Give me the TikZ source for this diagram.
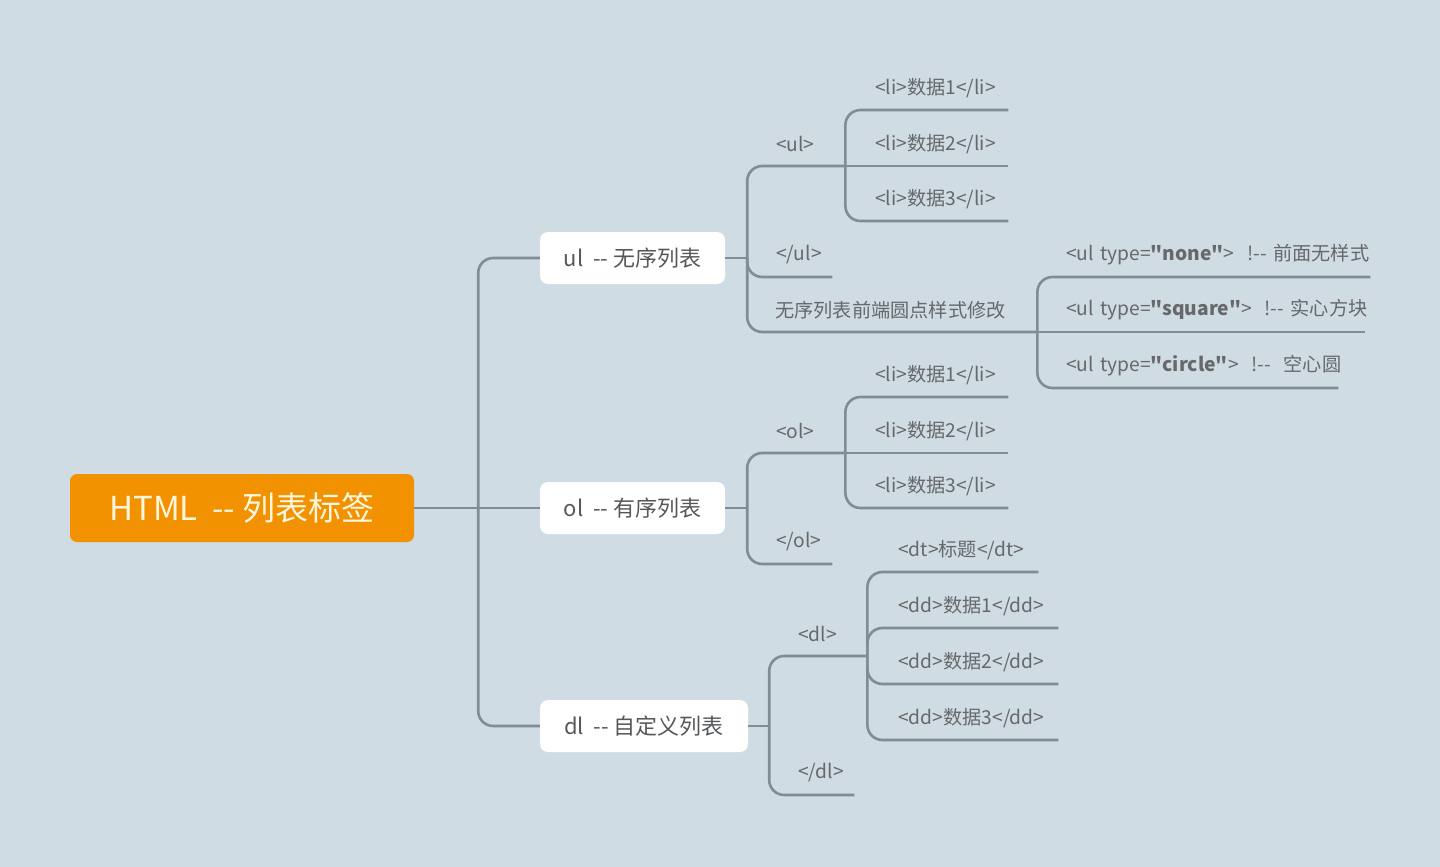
\documentclass[tikz,border=0pt]{standalone}
\usepackage{fontspec}
\setmainfont{Noto Sans CJK SC}[Ligatures=TeXOff]
\definecolor{bgblue}{RGB}{207,220,228}
\definecolor{linegray}{RGB}{128,140,150}
\definecolor{leafgray}{RGB}{102,104,106}
\definecolor{rootorange}{RGB}{242,146,0}
\definecolor{rootcream}{RGB}{255,246,222}
\definecolor{topictext}{RGB}{85,88,90}

\begin{document}
\begin{tikzpicture}[x=1pt, y=-1pt,
  root/.style={rectangle, rounded corners=7pt, fill=rootorange, text=rootcream, minimum width=344pt, minimum height=68pt, font=\fontsize{33}{38}\selectfont},
  topic/.style={rectangle, rounded corners=8pt, fill=white, text=topictext, minimum height=52pt, inner sep=0pt, font=\fontsize{22}{26}\selectfont},
  leaf/.style={anchor=south west, inner sep=0pt, minimum height=44pt, text width=#1, text=leafgray, font=\fontsize{19.2}{23}\selectfont},
  conn/.style={draw=linegray, line width=2.6pt, rounded corners=15pt}
]
\fill[bgblue] (0,0) rectangle (1440,867);

\node[root] (html) at (242,508) {HTML\ \ -{}- 列表标签};
\node[topic, minimum width=185pt] (ul) at (632.5,258) {ul\ \ -{}- 无序列表};
\node[topic, minimum width=185pt] (ol) at (632.5,508) {ol\ \ -{}- 有序列表};
\node[topic, minimum width=208pt] (dl) at (644,726) {dl\ \ -{}- 自定义列表};

% ul
\node[leaf=69pt] (ulopen) at (776,166) {<ul>};
\node[leaf=56pt] (ulclose) at (776,277) {</ul>};
\node[leaf=262pt] (ulstyle) at (775,332) {无序列表前端圆点样式修改};
\node[leaf=133pt] (ulli1) at (875,110) {<li>数据1</li>};
\node[leaf=133pt] (ulli2) at (875,166) {<li>数据2</li>};
\node[leaf=133pt] (ulli3) at (875,221) {<li>数据3</li>};
\node[leaf=304pt] (tnone) at (1066,277) {\mbox{<ul type=\textbf{"none"}>\ \ !-{}- 前面无样式}};
\node[leaf=299pt] (tsquare) at (1066,332) {\mbox{<ul type=\textbf{"square"}>\ \ !-{}- 实心方块}};
\node[leaf=272pt] (tcircle) at (1066,388) {\mbox{<ul type=\textbf{"circle"}>\ \ !-{}-\ \ 空心圆}};

% ol
\node[leaf=69pt] (olopen) at (776,453) {<ol>};
\node[leaf=56pt] (olclose) at (776,564) {</ol>};
\node[leaf=133pt] (olli1) at (875,397) {<li>数据1</li>};
\node[leaf=133pt] (olli2) at (875,453) {<li>数据2</li>};
\node[leaf=133pt] (olli3) at (875,508) {<li>数据3</li>};

% dl
\node[leaf=69pt] (dlopen) at (798,656) {<dl>};
\node[leaf=56pt] (dlclose) at (798,795) {</dl>};
\node[leaf=140pt] (dt) at (898,572) {<dt>标题</dt>};
\node[leaf=160pt] (dd1) at (898,628) {<dd>数据1</dd>};
\node[leaf=160pt] (dd2) at (898,684) {<dd>数据2</dd>};
\node[leaf=160pt] (dd3) at (898,740) {<dd>数据3</dd>};

\draw[conn] (html) -- (ol);
\draw[conn] (html.east) ++(64,0) |- (ul.west);
\draw[conn] (html.east) ++(64,0) |- (dl.west);

\draw[conn] (ul.east) -- ++(22,0);
\foreach \c in {ulopen,ulclose,ulstyle} \draw[conn] (ul.east) ++(22,0) |- (\c.south east);
\foreach \c in {ulli1,ulli3} \draw[conn] (ulopen.south east) |- (\c.south east);
\draw[conn] (ulopen.south east) -- (ulli2.south east);
\foreach \c in {tnone,tcircle} \draw[conn] (ulstyle.south east) |- (\c.south east);
\draw[conn] (ulstyle.south east) -- (tsquare.south east);

\draw[conn] (ol.east) -- ++(22,0);
\foreach \c in {olopen,olclose} \draw[conn] (ol.east) ++(22,0) |- (\c.south east);
\foreach \c in {olli1,olli3} \draw[conn] (olopen.south east) |- (\c.south east);
\draw[conn] (olopen.south east) -- (olli2.south east);

\draw[conn] (dl.east) -- ++(21,0);
\foreach \c in {dlopen,dlclose} \draw[conn] (dl.east) ++(21,0) |- (\c.south east);
\foreach \c in {dt,dd1,dd2,dd3} \draw[conn] (dlopen.south east) |- (\c.south east);
\end{tikzpicture}
\end{document}
